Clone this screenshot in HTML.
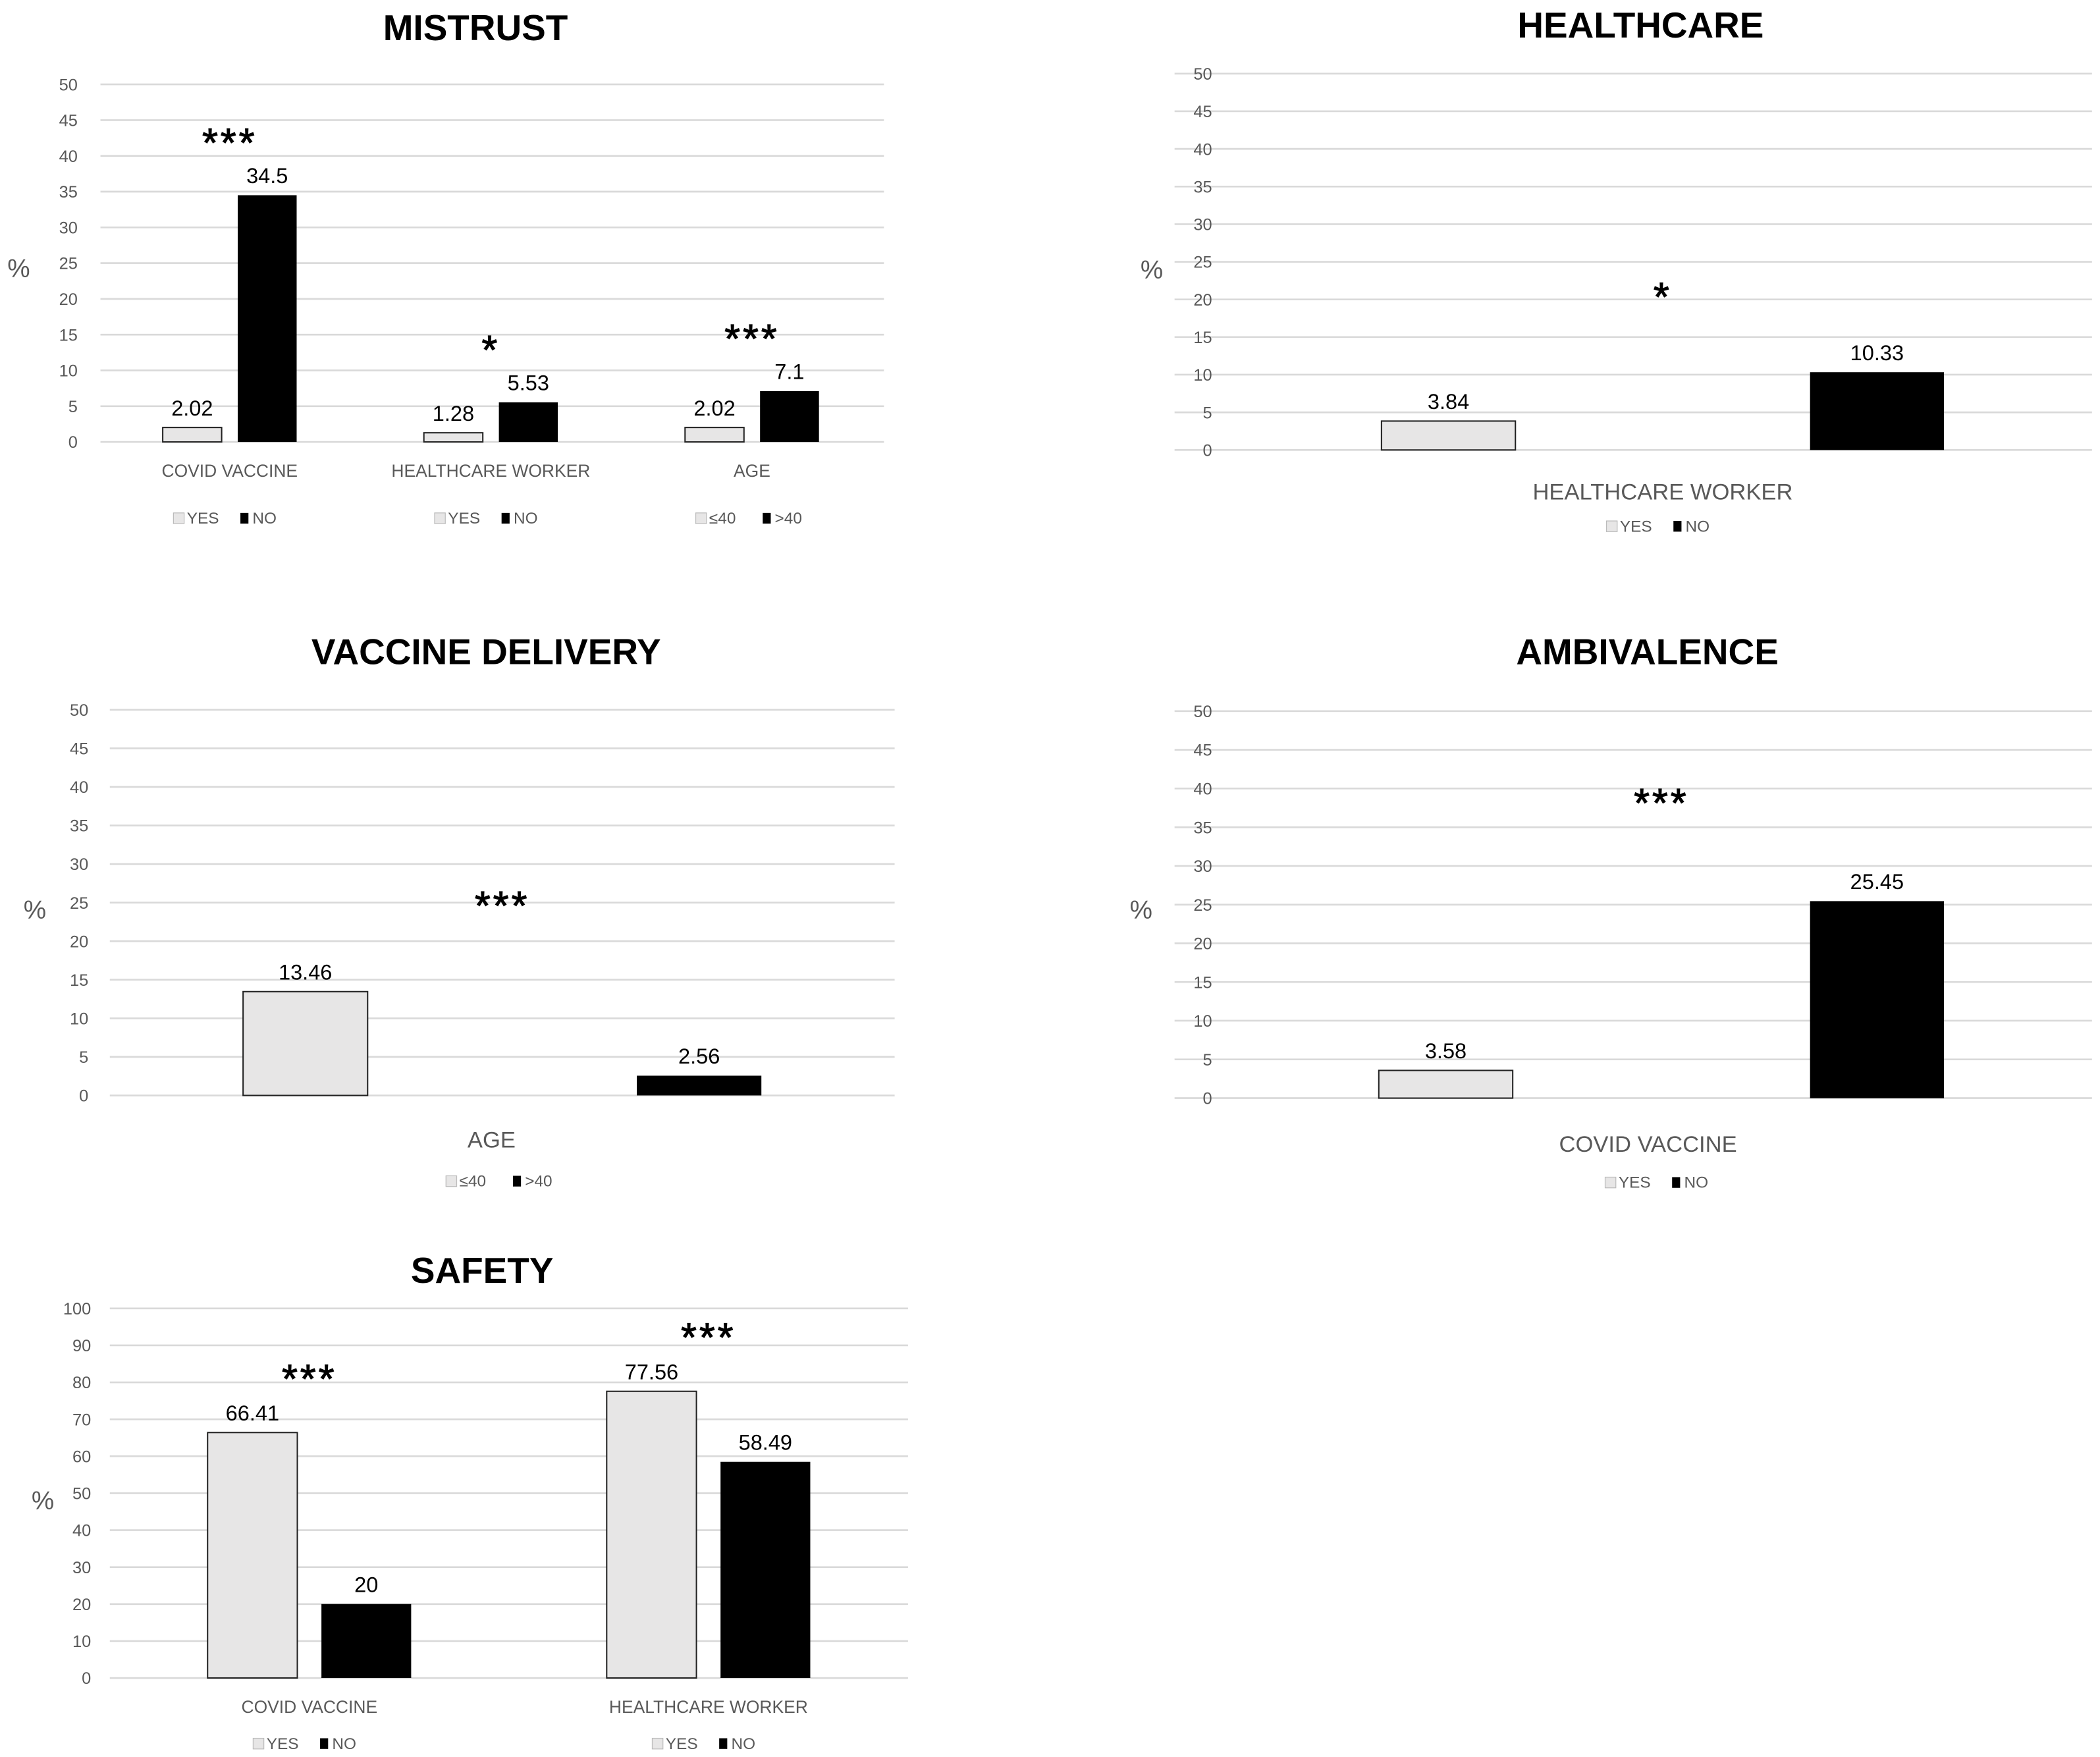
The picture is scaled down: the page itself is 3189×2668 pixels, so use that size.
<!DOCTYPE html>
<html><head><meta charset="utf-8"><style>
html,body{margin:0;padding:0;background:#fff;}
svg{display:block;}
text{font-family:"Liberation Sans",sans-serif;}
</style></head><body>
<svg id="fig" width="3189" height="2668" viewBox="0 0 1568 1312" preserveAspectRatio="none" xmlns="http://www.w3.org/2000/svg"></svg>
<script>
// ---- data ----
const mistrustCats = ["COVID VACCINE", "HEALTHCARE WORKER", "AGE"];
const mistrustA = [2.02, 1.28, 2.02];
const mistrustB = [34.5, 5.53, 7.1];
const mistrustSig = ["***", "*", "***"];
const mistrustLegA = ["YES", "YES", "≤40"];
const mistrustLegB = ["NO", "NO", ">40"];
const ticks50 = [0, 5, 10, 15, 20, 25, 30, 35, 40, 45, 50];

const healthCats = ["HEALTHCARE WORKER"];
const healthA = [3.84];
const healthB = [10.33];
const healthSig = ["*"];

const deliveryCats = ["AGE"];
const deliveryA = [13.46];
const deliveryB = [2.56];
const deliverySig = ["***"];

const ambivCats = ["COVID VACCINE"];
const ambivA = [3.58];
const ambivB = [25.45];
const ambivSig = ["***"];

const safetyCats = ["COVID VACCINE", "HEALTHCARE WORKER"];
const safetyA = [66.41, 77.56];
const safetyB = [20, 58.49];
const safetySig = ["***", "***"];
const ticks100 = [0, 10, 20, 30, 40, 50, 60, 70, 80, 90, 100];

const NS = "http://www.w3.org/2000/svg";
const svg = document.getElementById("fig");
function mk(tag, attrs, parent, txt) {
  const e = document.createElementNS(NS, tag);
  for (const k in attrs) e.setAttribute(k, attrs[k]);
  if (txt !== undefined) e.textContent = txt;
  (parent || svg).appendChild(e);
  return e;
}

function chart(L, title, cats, A, B, sig, ticks, legA, legB) {
  const g = mk("g", {});
  
  
  const max = ticks[ticks.length - 1];
  const y = v => L.y0 - (v / max) * (L.y0 - L.yTop);
  const t = mk("text", {x: L.tx, y: L.ty, "text-anchor": "middle", "font-size": 27, "font-weight": "bold", fill: "#000"}, g, title);
  
  
  ticks.forEach(v => {
    const ln = mk("line", {x1: L.gx0, x2: L.gx1, y1: y(v), y2: y(v), stroke: "#d9d9d9", "stroke-width": 1.3}, g);
    
    
    const tl = mk("text", {x: L.tickX, y: y(v) + 4.5, "text-anchor": "end", "font-size": 12.5, fill: "#595959"}, g, String(v));
    
    
  });
  const pc = mk("text", {x: L.pctX, y: L.pctY, "text-anchor": "middle", "font-size": 19, fill: "#595959"}, g, "%");
  
  
  const gw = (L.gx1 - L.gx0) / cats.length;
  cats.forEach((c, i) => {
    const cx = L.gx0 + gw * (i + 0.5) + (L.cOff || 0);
    const ax = cx - L.gap / 2 - L.bw, bx = cx + L.gap / 2;
    const ra = mk("rect", {x: ax, y: y(A[i]), width: L.bw, height: y(0) - y(A[i]), fill: "#e7e6e6", stroke: "#222", "stroke-width": 1}, g);
    
    
    const rb = mk("rect", {x: bx, y: y(B[i]), width: L.bw, height: y(0) - y(B[i]), fill: "#000"}, g);
    
    
    const va = mk("text", {x: ax + L.bw / 2, y: y(A[i]) - 9, "text-anchor": "middle", "font-size": 16, fill: "#000"}, g, String(A[i]));
    
    
    const vb = mk("text", {x: bx + L.bw / 2, y: y(B[i]) - 9, "text-anchor": "middle", "font-size": 16, fill: "#000"}, g, String(B[i]));
    
    
    const sy = Math.min(y(A[i]), y(B[i])) - L.sigOff;
    const s = mk("text", {x: cx, y: sy, "text-anchor": "middle", "font-size": 30, fill: "#000", "letter-spacing": 2, stroke: "#000", "stroke-width": 0.6}, g, sig[i]);
    
    
    const cl = mk("text", {x: cx + (L.catOff || 0), y: L.catY, "text-anchor": "middle", "font-size": L.catFs, fill: "#595959"}, g, c);
    
    
    const la = legA[i] || legA[0], lb = legB[i] || legB[0];
    const lg = mk("g", {}, g);
    
    
    const sq1 = mk("rect", {x: cx - 42, y: L.legY - 8, width: 8, height: 8, fill: "#e7e6e6", stroke: "#bbb", "stroke-width": 0.6}, lg);
    
    
    const t1 = mk("text", {x: cx - 32, y: L.legY, "font-size": 12, fill: "#595959"}, lg, la);
    
    
    const sq2 = mk("rect", {x: cx + 8, y: L.legY - 8, width: 6, height: 8, fill: "#000"}, lg);
    
    
    const t2 = mk("text", {x: cx + 17, y: L.legY, "font-size": 12, fill: "#595959"}, lg, lb);
    
    
  });
}

chart({name: "mistrust-chart", tx: 355, ty: 30, y0: 330, yTop: 63, gx0: 75, gx1: 660, tickX: 58, pctX: 14, pctY: 207,
  bw: 44, gap: 12, sigOff: 29, catY: 356, catFs: 13, legY: 391, cOff: -1},
  "MISTRUST", mistrustCats, mistrustA, mistrustB, mistrustSig, ticks50, mistrustLegA, mistrustLegB);

chart({name: "healthcare-chart", tx: 1225, ty: 28, y0: 336, yTop: 55, gx0: 877, gx1: 1562, tickX: 905, pctX: 860, pctY: 208,
  bw: 100, gap: 220, sigOff: 46, catY: 373, catFs: 17, legY: 397, cOff: 22},
  "HEALTHCARE", healthCats, healthA, healthB, healthSig, ticks50, ["YES"], ["NO"]);

chart({name: "vaccine-delivery-chart", tx: 363, ty: 496, y0: 818, yTop: 530, gx0: 82, gx1: 668, tickX: 66, pctX: 26, pctY: 686,
  bw: 93, gap: 201, sigOff: 54, catY: 857, catFs: 17, legY: 886, cOff: 0, catOff: -8},
  "VACCINE DELIVERY", deliveryCats, deliveryA, deliveryB, deliverySig, ticks50, ["≤40"], [">40"]);

chart({name: "ambivalence-chart", tx: 1230, ty: 496, y0: 820, yTop: 531, gx0: 877, gx1: 1562, tickX: 905, pctX: 852, pctY: 686,
  bw: 100, gap: 222, sigOff: 63, catY: 860, catFs: 17, legY: 887, cOff: 21, catOff: -10},
  "AMBIVALENCE", ambivCats, ambivA, ambivB, ambivSig, ticks50, ["YES"], ["NO"]);

chart({name: "safety-chart", tx: 360, ty: 958, y0: 1253, yTop: 977, gx0: 82, gx1: 678, tickX: 68, pctX: 32, pctY: 1127,
  bw: 67, gap: 18, sigOff: 30, catY: 1279, catFs: 13, legY: 1306, cOff: 0},
  "SAFETY", safetyCats, safetyA, safetyB, safetySig, ticks100, ["YES"], ["NO"]);
</script>
</body></html>
